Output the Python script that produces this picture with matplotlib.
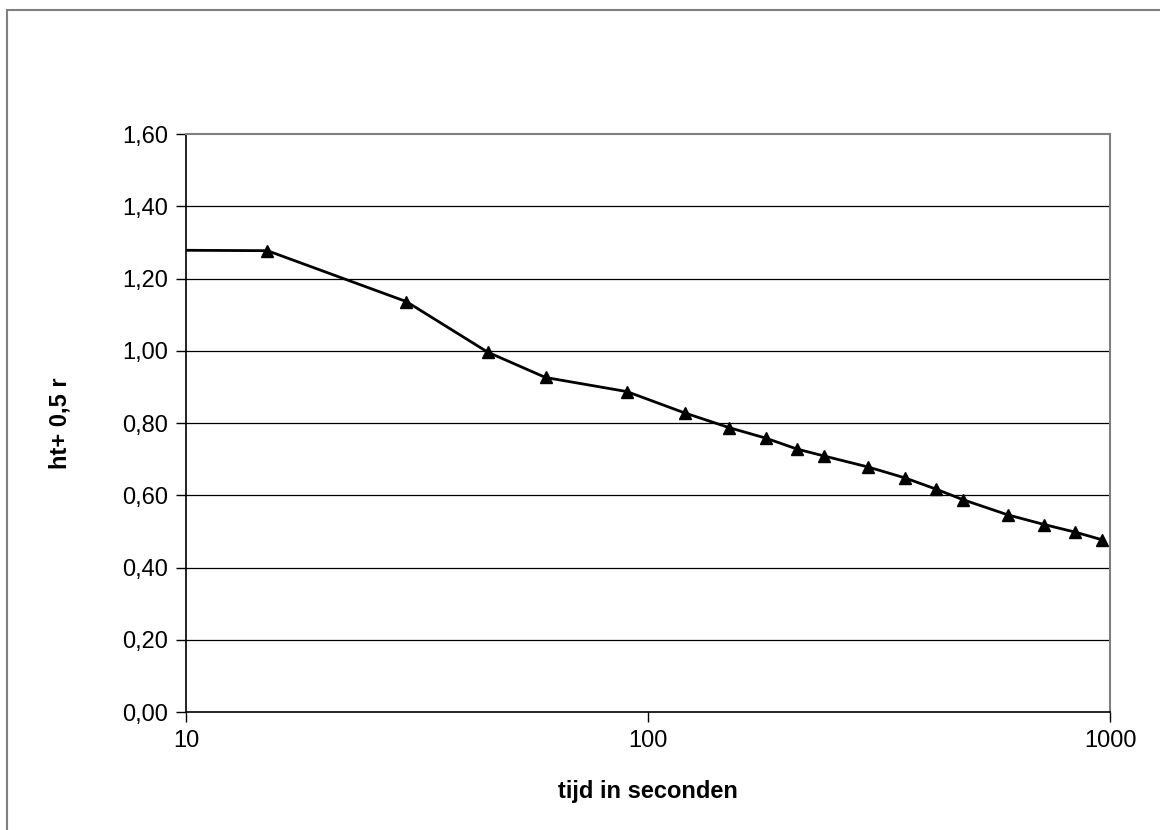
import matplotlib
matplotlib.use("Agg")
import matplotlib.pyplot as plt
from matplotlib.ticker import FixedLocator, FuncFormatter, NullLocator
from matplotlib.patches import Rectangle

plt.rcParams['font.family'] = ['Liberation Sans', 'DejaVu Sans']

tijd = [5, 15, 30, 45, 60, 90, 120, 150, 180, 210, 240, 300, 360, 420, 480, 600, 720, 840, 960]
waarde = [1.28, 1.277, 1.136, 0.996, 0.926, 0.887, 0.828, 0.787, 0.758, 0.728, 0.709, 0.678, 0.648, 0.617, 0.588, 0.546, 0.519, 0.498, 0.477]
y_ticks = [0.0, 0.2, 0.4, 0.6, 0.8, 1.0, 1.2, 1.4, 1.6]
x_ticks = [10, 100, 1000]

W, H = 1160, 830
fig = plt.figure(figsize=(W / 100, H / 100), dpi=100)
fig.patches.append(Rectangle((7 / W, -0.1), 1.2, 1 - 10 / H + 0.1, transform=fig.transFigure,
                             fill=False, edgecolor='#808080', linewidth=1.5))

left, right, top, bottom = 186, 1110, 134, 712
ax = fig.add_axes([left / W, 1 - bottom / H, (right - left) / W, (bottom - top) / H])
ax.set_xscale('log')
ax.set_xlim(10, 1000)
ax.set_ylim(0, 1.6)

for yv in y_ticks[1:-1]:
    ax.axhline(yv, color='black', linewidth=0.9, zorder=1)

ax.plot(tijd, waarde, color='black', linewidth=2, marker='^', markersize=8, zorder=3, clip_on=True)

ax.xaxis.set_major_locator(FixedLocator(x_ticks))
ax.xaxis.set_minor_locator(NullLocator())
ax.xaxis.set_major_formatter(FuncFormatter(lambda v, p: f"{int(v)}"))
ax.yaxis.set_major_locator(FixedLocator(y_ticks))
ax.yaxis.set_major_formatter(FuncFormatter(lambda v, p: f"{v:.2f}".replace('.', ',')))

ax.tick_params(axis='both', direction='out', length=7, width=1, labelsize=17, pad=6, color='black')

for s in ['left', 'bottom']:
    ax.spines[s].set_color('black')
    ax.spines[s].set_linewidth(1.2)
for s in ['top', 'right']:
    ax.spines[s].set_color('#808080')
    ax.spines[s].set_linewidth(1.5)

ax.set_xlabel('tijd in seconden', fontsize=17, fontweight='bold', labelpad=20)
ax.set_ylabel('ht+ 0,5 r', fontsize=17, fontweight='bold', labelpad=36)

fig.savefig('out.png', dpi=100)
